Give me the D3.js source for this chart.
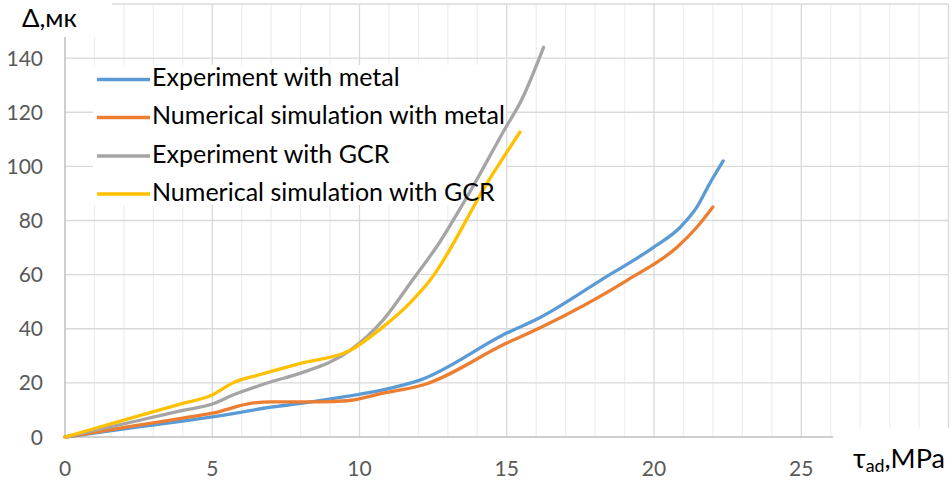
<!DOCTYPE html>
<html>
<head>
<meta charset="utf-8">
<script src="https://cdn.jsdelivr.net/npm/d3@7"></script>
<style>
  html, body { margin: 0; padding: 0; background: #fff; }
  svg { display: block; font-family: Lato, "Open Sans", sans-serif; font-variant-ligatures: none; }
</style>
</head>
<body>
<svg id="chart" width="952" height="483"></svg>
<script>
// ---- data ----
const seriesNames = ["Experiment with metal", "Numerical simulation with metal", "Experiment with GCR", "Numerical simulation with GCR"];
const expMetalX = [0, 2.5, 4, 5, 7, 8, 9.45, 10.8, 12.05, 15, 16.1, 18.2, 19.97, 20.9, 21.46, 21.9, 22.35];
const expMetalY = [0, 3.7, 5.9, 7.4, 11, 12.4, 14.8, 17.4, 21, 38.4, 44, 58, 70, 77.6, 85, 93.8, 102];
const simMetalX = [0, 2.5, 4, 5, 6.4, 7, 8.66, 9.57, 10.8, 12.15, 15, 16.1, 19.1, 20.8, 21.46, 22];
const simMetalY = [0, 4.4, 7.0, 8.8, 12.6, 13, 13, 13.4, 16.2, 19.2, 34.7, 40.2, 58, 70.3, 77.6, 85];
const expGcrX = [0, 2.5, 4, 5, 5.7, 7, 8, 9.68, 10.8, 11.8, 12.7, 13.65, 15, 15.45, 16.25];
const expGcrY = [0, 6.1, 9.8, 12.2, 15.5, 20.4, 23.6, 32, 43.2, 58, 71.6, 88.7, 115, 123.4, 144];
const simGcrX = [0, 2.5, 4, 5, 5.7, 6.6, 8, 9.68, 10.8, 11.7, 12.4, 14.4, 15.45];
const simGcrY = [0, 7.8, 12.4, 15.5, 20, 23, 27.2, 32, 40.7, 49.4, 58, 95, 112.7];
const xTicks = [0, 5, 10, 15, 20, 25];
const yTicks = [0, 20, 40, 60, 80, 100, 120, 140];
const colors = ["#5b9bd5", "#ed7d31", "#a5a5a5", "#ffc000"];

const seriesX = [expMetalX, simMetalX, expGcrX, simGcrX];
const seriesY = [expMetalY, simMetalY, expGcrY, simGcrY];

// ---- layout ----
const svg = d3.select("#chart");
const x = d3.scaleLinear().domain([0, 30]).range([65, 948.5]);
const y = d3.scaleLinear().domain([0, 160]).range([437, 4]);

const grid = svg.append("g");
grid.selectAll("line.minor").data(d3.range(1, 31).filter(v => v % 5 !== 0)).enter()
  .append("line").attr("x1", d => x(d)).attr("x2", d => x(d))
  .attr("y1", y(160)).attr("y2", y(0))
  .attr("stroke", "#efefef").attr("stroke-width", 1.3);
grid.selectAll("line.major").data(d3.range(5, 31, 5)).enter()
  .append("line").attr("x1", d => x(d)).attr("x2", d => x(d))
  .attr("y1", y(160)).attr("y2", y(0))
  .attr("stroke", "#d9d9d9").attr("stroke-width", 1.3);
grid.selectAll("line.h").data(d3.range(20, 161, 20)).enter()
  .append("line").attr("x1", x(0)).attr("x2", x(30))
  .attr("y1", d => y(d)).attr("y2", d => y(d))
  .attr("stroke", "#d9d9d9").attr("stroke-width", 1.3);

// white boxes behind axis titles and legend
svg.append("rect").attr("x", 0).attr("y", 0).attr("width", 112).attr("height", 37).attr("fill", "#fff");
svg.append("rect").attr("x", 833).attr("y", 428).attr("width", 119).attr("height", 55).attr("fill", "#fff");
svg.append("rect").attr("x", 93).attr("y", 65).attr("width", 413).attr("height", 140).attr("fill", "#fff");

// axes lines
svg.append("line").attr("x1", x(0)).attr("x2", x(0)).attr("y1", 37).attr("y2", y(0))
  .attr("stroke", "#bfbfbf").attr("stroke-width", 1.5);
svg.append("line").attr("x1", x(0)).attr("x2", 833).attr("y1", y(0)).attr("y2", y(0))
  .attr("stroke", "#bfbfbf").attr("stroke-width", 1.5);

// tick labels
svg.selectAll("text.yt").data(yTicks).enter().append("text")
  .attr("x", 43).attr("y", d => y(d)).attr("dy", "0.36em")
  .attr("text-anchor", "end").attr("fill", "#595959").attr("font-size", 21)
  .text(d => d);
svg.selectAll("text.xt").data(xTicks).enter().append("text")
  .attr("x", d => x(d)).attr("y", 476)
  .attr("text-anchor", "middle").attr("fill", "#595959").attr("font-size", 21)
  .text(d => d);

// series
const line = d3.line().x(d => x(d[0])).y(d => y(d[1])).curve(d3.curveMonotoneX);
seriesX.forEach((xs, i) => {
  const pts = xs.map((v, j) => [v, seriesY[i][j]]);
  svg.append("path").attr("d", line(pts)).attr("fill", "none")
    .attr("stroke", colors[i]).attr("stroke-width", 3.3)
    .attr("stroke-linejoin", "round").attr("stroke-linecap", "round");
});

// legend
const legY = [79.5, 117.5, 156, 194];
seriesNames.forEach((name, i) => {
  svg.append("line").attr("x1", 97).attr("x2", 150).attr("y1", legY[i]).attr("y2", legY[i])
    .attr("stroke", colors[i]).attr("stroke-width", 3.3);
  svg.append("text").attr("class", "leg").attr("x", 152).attr("y", legY[i] + 6.8)
    .attr("font-size", 23).attr("fill", "#000").text(name);
});
// fit legend font so the longest entry spans the same width as the reference
const longest = svg.selectAll("text.leg").nodes()[1];
const w = longest.getComputedTextLength();
const fs = 23 * 353 / w;
svg.selectAll("text.leg").attr("font-size", fs);

// axis titles
svg.append("text").attr("x", 22).attr("y", 27).attr("font-size", fs * 1.03).attr("fill", "#000").text("Δ,мк");
const xfs = fs * 1.08;
const xt = svg.append("text").attr("x", 853).attr("y", 468).attr("font-size", xfs).attr("fill", "#000");
xt.append("tspan").text("τ");
xt.append("tspan").attr("font-size", xfs * 0.66).attr("dy", 4).text("ad");
xt.append("tspan").attr("dy", -4).text(",MPa");
</script>
</body>
</html>
